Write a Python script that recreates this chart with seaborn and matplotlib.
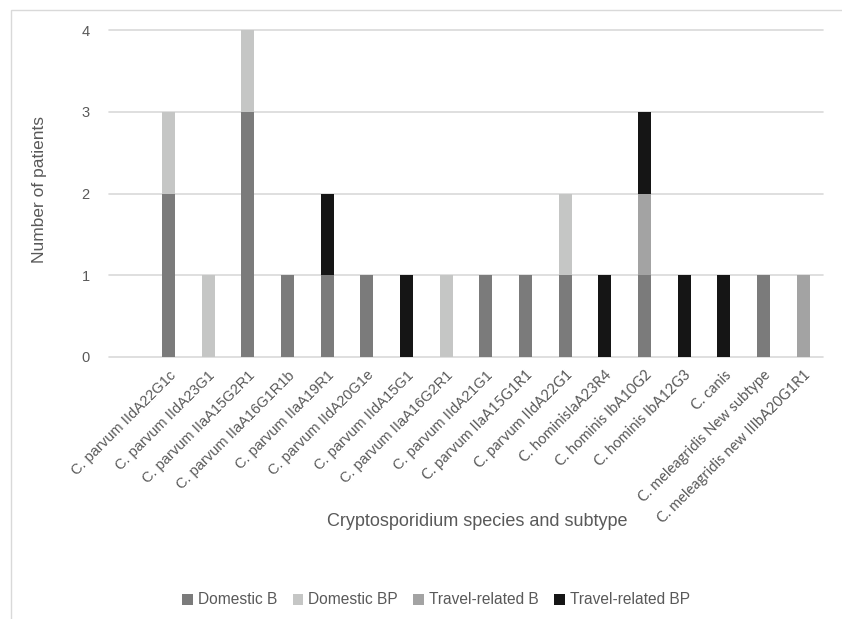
import pandas as pd
import matplotlib
matplotlib.use("Agg")
import matplotlib.pyplot as plt
from matplotlib.patches import Patch, Rectangle
import seaborn as sns

# data
subtypes = [
    "C. parvum IIdA22G1c", "C. parvum IIdA23G1", "C. parvum IIaA15G2R1",
    "C. parvum IIaA16G1R1b", "C. parvum IIaA19R1", "C. parvum IIdA20G1e",
    "C. parvum IIdA15G1", "C. parvum IIaA16G2R1", "C. parvum IIdA21G1",
    "C. parvum IIaA15G1R1", "C. parvum IIdA22G1", "C. hominisIaA23R4",
    "C. hominis IbA10G2", "C. hominis IbA12G3", "C. canis",
    "C. meleagridis New subtype", "C. meleagridis new IIIbA20G1R1",
]
groups = ["Domestic B", "Domestic BP", "Travel-related B", "Travel-related BP"]
domestic_b = [2, 0, 3, 1, 1, 1, 0, 0, 1, 1, 1, 0, 1, 0, 0, 1, 0]
domestic_bp = [1, 1, 1, 0, 0, 0, 0, 1, 0, 0, 1, 0, 0, 0, 0, 0, 0]
travel_b = [0, 0, 0, 0, 0, 0, 0, 0, 0, 0, 0, 0, 1, 0, 0, 0, 1]
travel_bp = [0, 0, 0, 0, 1, 0, 1, 0, 0, 0, 0, 1, 1, 1, 1, 0, 0]
colors = ["#7b7b7b", "#c5c6c5", "#a3a3a3", "#151515"]
calibri_from = 9  # later labels were typed in a different font

text_col = "#595959"
grid_col = "#d9d9d9"

sns.set_theme(style="white")
plt.rcParams["font.family"] = ["Liberation Sans", "DejaVu Sans"]

df = pd.DataFrame({
    "subtype": subtypes * 4,
    "pos": list(range(len(subtypes))) * 4,
    "group": [g for g in groups for _ in subtypes],
    "n": domestic_b + domestic_bp + travel_b + travel_bp,
})

fig = plt.figure(figsize=(8.42, 6.19), dpi=100)
ax = fig.add_axes([109 / 842, 1 - 357 / 619, 714 / 842, 327 / 619])

# stacked bars: draw cumulative totals, each layer in front of the next one
bottom = [0] * len(subtypes)
for i, (g, c) in enumerate(zip(groups, colors)):
    part = df[df["group"] == g]
    bottom = [b + v for b, v in zip(bottom, part["n"])]
    sns.barplot(data=part.assign(top=bottom), x="pos", y="top", color=c,
                width=0.32, ax=ax, native_scale=True, saturation=1,
                errorbar=None, linewidth=0, edgecolor="none", zorder=10 - i)

ax.set_xlim(-1.5, len(subtypes) - 0.5)
ax.set_ylim(0, 4)
ax.set_yticks([0, 1, 2, 3, 4])
ax.yaxis.grid(True, color=grid_col, lw=1.2)
for line in ax.get_ygridlines():
    line.set_clip_on(False)
ax.set_axisbelow(True)
for s in ax.spines.values():
    s.set_visible(False)
ax.tick_params(axis="both", length=0, colors=text_col)
ax.tick_params(axis="y", labelsize=10.5, pad=14)

ax.set_xticks(range(len(subtypes)))
ax.set_xticklabels(subtypes, rotation=45, ha="right", rotation_mode="anchor",
                   fontsize=10.5, color=text_col)
for i, lab in enumerate(ax.get_xticklabels()):
    if i >= calibri_from:
        lab.set_family(["Lato", "DejaVu Sans"])
ax.tick_params(axis="x", pad=8)

ax.set_xlabel("")
ax.set_ylabel("")
fig.text(40 / 842, 1 - 190 / 619, "Number of patients", rotation=90,
         ha="center", va="center", fontsize=12.5, color=text_col)
fig.text(477 / 842, 1 - 521 / 619, "Cryptosporidium species and subtype",
         ha="center", va="center", fontsize=13, color=text_col)

handles = [Patch(facecolor=c, edgecolor="none") for c in colors]
fig.legend(handles, groups, loc="center", bbox_to_anchor=(436 / 842, 1 - 600 / 619),
           ncol=4, frameon=False, fontsize=11.2, handlelength=0.7, handleheight=0.7,
           handletextpad=0.3, columnspacing=1.0, labelcolor=text_col)

# chart-area border, cut off at the right and bottom of the image
fig.patches.append(Rectangle((11 / 842, -0.1), 2, 1 - 10 / 619 + 0.1,
                             transform=fig.transFigure, fill=False,
                             edgecolor=grid_col, lw=1))

fig.savefig("out.png", dpi=100)
